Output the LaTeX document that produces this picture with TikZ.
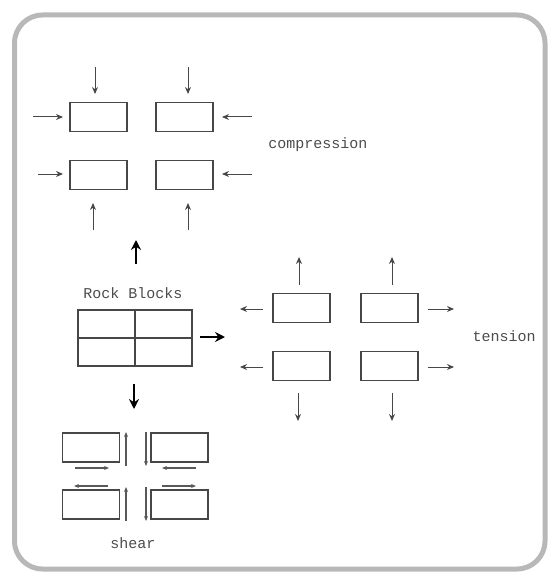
\documentclass[tikz,border=0pt]{standalone}
\usepackage{fontspec}
\newfontfamily\lblfont{Liberation Mono}
\usetikzlibrary{arrows.meta}
\tikzset{
  blk/.style={draw=black!72, line width=1.5pt, minimum width=57pt, minimum height=29pt, inner sep=0pt, anchor=center},
  arr/.style={draw=black!72, line width=1pt, -{Stealth[length=7pt,width=6pt]}},
  sarr/.style={draw=black!65, line width=1.3pt, -{Stealth[length=5pt,width=4pt]}},
  bold/.style={draw=black, line width=2.4pt, -{Stealth[length=10pt,width=10pt]}},
  lbl/.style={font=\lblfont\fontsize{15}{15}\selectfont, text=black!70, inner sep=0pt},
  frame/.style={draw=black!28, line width=5pt, rounded corners=28pt}
}
\newcommand\farrow[4][arr]{\coordinate (#2s) at #3; \coordinate (#2e) at #4; \draw[#1] (#2s) -- (#2e);}
\begin{document}
\begin{tikzpicture}[x=1pt,y=-1pt]
\useasboundingbox (0,0) rectangle (555,572);
\begin{scope}
\clip (0,0) rectangle (555,572);
\draw[frame] (14.5,15) rectangle (545,569);
\end{scope}

% compression
\node[blk] (ctl) at (98.5,117) {};
\node[blk] (ctr) at (184.5,117) {};
\node[blk] (cbl) at (98.5,175) {};
\node[blk] (cbr) at (184.5,175) {};
\farrow{c1}{(95,67)}{(95,94)}
\farrow{c2}{(188,67)}{(188,94)}
\farrow{c3}{(33,117)}{(63,117)}
\farrow{c4}{(252,117)}{(222,117)}
\farrow{c5}{(38,174)}{(63,174)}
\farrow{c6}{(252,174)}{(222,174)}
\farrow{c7}{(93,230)}{(93,203)}
\farrow{c8}{(188,230)}{(188,203)}
\node[lbl] (comp) at (318,145) {compression};

% rock blocks
\node[lbl] (rocklbl) at (133,293) {Rock Blocks};
\node[draw=black!72, line width=1.5pt, minimum width=114pt, minimum height=56pt, inner sep=0pt] (rock) at (135,338) {};
\draw[black!72, line width=1.5pt] (rock.north) -- (rock.south) (rock.west) -- (rock.east);
\farrow[bold]{b1}{(136,264)}{(136,240)}
\farrow[bold]{b2}{(200,337)}{(225,337)}
\farrow[bold]{b3}{(134,384)}{(134,409)}

% tension
\node[blk] (ttl) at (301.5,308) {};
\node[blk] (ttr) at (389.5,308) {};
\node[blk] (tbl) at (301.5,366) {};
\node[blk] (tbr) at (389.5,366) {};
\farrow{t1}{(299,285)}{(299,257)}
\farrow{t2}{(392,285)}{(392,257)}
\farrow{t3}{(263,309)}{(240,309)}
\farrow{t4}{(263,367)}{(240,367)}
\farrow{t5}{(428,309)}{(454,309)}
\farrow{t6}{(428,367)}{(454,367)}
\farrow{t7}{(298,393)}{(298,421)}
\farrow{t8}{(392,393)}{(392,421)}
\node[lbl] (tens) at (504,336) {tension};

% shear
\node[blk] (stl) at (91,447.5) {};
\node[blk] (str) at (179.5,447.5) {};
\node[blk] (sbl) at (91,504.5) {};
\node[blk] (sbr) at (179.5,504.5) {};
\farrow[sarr]{s1}{(126,466)}{(126,432)}
\farrow[sarr]{s2}{(146,432)}{(146,466)}
\farrow[sarr]{s3}{(126,521)}{(126,487)}
\farrow[sarr]{s4}{(146,487)}{(146,521)}
\farrow[sarr]{s5}{(75,468)}{(109,468)}
\farrow[sarr]{s6}{(196,468)}{(162,468)}
\farrow[sarr]{s7}{(108,486)}{(74,486)}
\farrow[sarr]{s8}{(162,486)}{(196,486)}
\node[lbl] (shr) at (133,543) {shear};
\end{tikzpicture}
\end{document}
